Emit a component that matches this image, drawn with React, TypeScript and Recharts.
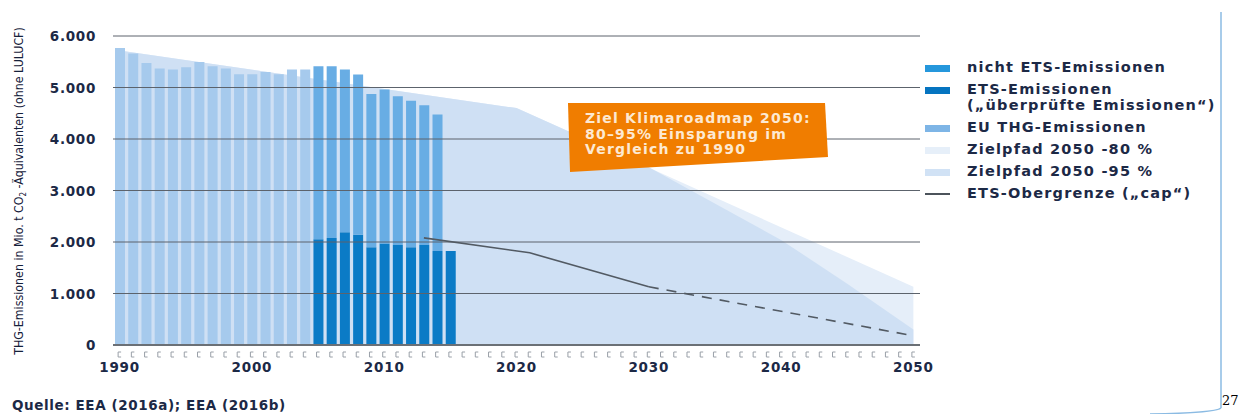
import React from 'react';
import { ComposedChart, Bar, Area, Line, XAxis, YAxis, ReferenceLine, Legend } from 'recharts';

// categories: one per year, 1990..2050
const YEARS = Array.from({ length: 61 }, (_, i) => 1990 + i);

// EU THG-Emissionen 1990-2004 (Mio. t CO2-Äq.)
const EU_YEARS = [1990, 1991, 1992, 1993, 1994, 1995, 1996, 1997, 1998, 1999, 2000, 2001, 2002, 2003, 2004];
const EU_THG = [5767, 5659, 5477, 5368, 5349, 5393, 5496, 5413, 5368, 5258, 5258, 5302, 5258, 5349, 5349];

// ETS-Emissionen ("überprüfte Emissionen") 2005-2015
const ETS_YEARS = [2005, 2006, 2007, 2008, 2009, 2010, 2011, 2012, 2013, 2014, 2015];
const ETS = [2054, 2079, 2190, 2143, 1899, 1969, 1944, 1899, 1944, 1827, 1827];

// nicht ETS-Emissionen 2005-2014 (stacked on ETS)
const NON_ETS_YEARS = [2005, 2006, 2007, 2008, 2009, 2010, 2011, 2012, 2013, 2014];
const NON_ETS = [3359, 3334, 3159, 3109, 2977, 2992, 2887, 2842, 2713, 2650];

// Zielpfade (corner points of the target paths)
const Z80_YEARS = [1990, 2020, 2050];
const Z80 = [5720, 4600, 1130];
const Z95_YEARS = [1990, 2020, 2030, 2040, 2045, 2050];
const Z95 = [5720, 4600, 3450, 2040, 1190, 300];

// ETS cap
const CAP_YEARS = [2013, 2021, 2030];
const CAP = [2080, 1790, 1130];
const CAP_PROJ_YEARS = [2030, 2050];
const CAP_PROJ = [1130, 180];

const Y_TICKS = [0, 1000, 2000, 3000, 4000, 5000, 6000];
const X_LABELS = [1990, 2000, 2010, 2020, 2030, 2040, 2050];

const C = {
  eu: '#a6caed',
  nonEts: '#68ade4',
  ets: '#0b7bc6',
  z80: '#e5eef9',
  z95: '#cfe0f4',
  cap: '#525a63',
  grid: '#5c636c',
  text: '#1c2946',
  orange: '#f07d00',
};

const LEGEND = [
  { label: ['nicht ETS-Emissionen'], color: '#2597dc', y: 69 },
  { label: ['ETS-Emissionen', '(„überprüfte Emissionen“)'], color: '#0574c0', y: 91 },
  { label: ['EU THG-Emissionen'], color: '#7eb5e6', y: 129 },
  { label: ['Zielpfad 2050 -80 %'], color: '#e6eff9', y: 151 },
  { label: ['Zielpfad 2050 -95 %'], color: '#d1e2f5', y: 173 },
  { label: ['ETS-Obergrenze („cap“)'], color: '#4c535b', y: 195, line: true },
];

const pick = (years: number[], vals: number[], y: number) => {
  const i = years.indexOf(y);
  return i < 0 ? null : vals[i];
};

const data = YEARS.map((year) => ({
  year,
  eu: pick(EU_YEARS, EU_THG, year),
  ets: pick(ETS_YEARS, ETS, year),
  nonEts: pick(NON_ETS_YEARS, NON_ETS, year),
  z80: pick(Z80_YEARS, Z80, year),
  z95: pick(Z95_YEARS, Z95, year),
  cap: pick(CAP_YEARS, CAP, year),
  capProj: pick(CAP_PROJ_YEARS, CAP_PROJ, year),
}));

const FONT = '"DejaVu Sans", sans-serif';

const fmt = (v: number) => (v === 0 ? '0' : `${Math.floor(v / 1000)}.${String(v % 1000).padStart(3, '0')}`);

const YTick = (props: any) => {
  const { x, y, payload } = props;
  return (
    <text x={x} y={y} dy={5} textAnchor="end" fill={C.text} fontFamily={FONT} fontWeight={700} fontSize={13.5} letterSpacing={0.7}>
      {fmt(payload.value)}
    </text>
  );
};

const XTick = (props: any) => {
  const { x, y, payload } = props;
  const isLabel = X_LABELS.includes(payload.value);
  return (
    <g>
      <path d={`M${x + 1.5},${y + 5} h-3 v5 h3`} fill="none" stroke="#9aa0a8" strokeWidth={1} />
      {isLabel && (
        <text x={x} y={y + 25} textAnchor="middle" fill={C.text} fontFamily={FONT} fontWeight={700} fontSize={13.5} letterSpacing={0.8}>
          {payload.value}
        </text>
      )}
    </g>
  );
};

const LegendContent = () => (
  <div style={{ position: 'relative', width: 310, height: 210, fontFamily: FONT, fontWeight: 700, fontSize: 14.5, color: C.text, letterSpacing: 1.2 }}>
    {LEGEND.map((it) => (
      <div key={it.label[0]} style={{ position: 'absolute', left: 0, top: it.y - 9, width: 310 }}>
        <span
          style={{
            position: 'absolute',
            left: 0,
            top: it.line ? 7 : 5,
            width: 25,
            height: it.line ? 2 : 7,
            background: it.color,
          }}
        />
        <div style={{ position: 'absolute', left: 42, top: -1, lineHeight: '16px', whiteSpace: 'nowrap' }}>
          {it.label.map((l) => (
            <div key={l}>{l}</div>
          ))}
        </div>
      </div>
    ))}
  </div>
);

export default function App() {
  return (
    <div style={{ position: 'absolute', left: 0, top: 0, width: 1241, height: 414, background: '#fff', overflow: 'hidden' }}>
      <ComposedChart
        width={1241}
        height={414}
        data={data}
        margin={{ top: 36, right: 321, bottom: 39, left: 53 }}
        barSize={10}
      >
        <Area type="linear" dataKey="z80" stroke="none" fill={C.z80} fillOpacity={1} connectNulls dot={false} activeDot={false} isAnimationActive={false} />
        <Area type="linear" dataKey="z95" stroke="none" fill={C.z95} fillOpacity={1} connectNulls dot={false} activeDot={false} isAnimationActive={false} />
        <Bar dataKey="eu" stackId="a" fill={C.eu} isAnimationActive={false} />
        <Bar dataKey="ets" stackId="a" fill={C.ets} isAnimationActive={false} />
        <Bar dataKey="nonEts" stackId="a" fill={C.nonEts} isAnimationActive={false} />
        {Y_TICKS.filter((t) => t > 0).map((t) => (
          <ReferenceLine key={t} y={t} stroke={C.grid} strokeWidth={1} />
        ))}
        <Line type="linear" dataKey="cap" stroke={C.cap} strokeWidth={1.6} dot={false} activeDot={false} connectNulls isAnimationActive={false} />
        <Line type="linear" dataKey="capProj" stroke={C.cap} strokeWidth={1.6} strokeDasharray="10 8" dot={false} activeDot={false} connectNulls isAnimationActive={false} />
        <XAxis
          dataKey="year"
          interval={0}
          tick={<XTick />}
          tickLine={false}
          tickSize={0}
          axisLine={{ stroke: '#6b7076', strokeWidth: 2 }}
          height={30}
        />
        <YAxis
          domain={[0, 6000]}
          ticks={Y_TICKS}
          tick={<YTick />}
          axisLine={false}
          tickLine={false}
          tickSize={0}
          tickMargin={17}
          width={60}
        />
        <Legend
          layout="horizontal"
          verticalAlign="middle"
          align="center"
          content={<LegendContent />}
          wrapperStyle={{ position: 'absolute', left: 925, top: 0, width: 310 }}
        />
      </ComposedChart>

      <svg width={1241} height={414} style={{ position: 'absolute', left: 0, top: 0, pointerEvents: 'none' }}>
        <polygon points="568,103 825,103 828,157 570,172" fill={C.orange} />
        <g fill="#fde9d2" fontFamily={FONT} fontWeight={700} fontSize={14} letterSpacing={1.2}>
          <text x={585} y={123}>Ziel Klimaroadmap 2050:</text>
          <text x={585} y={139}>80–95% Einsparung im</text>
          <text x={585} y={154}>Vergleich zu 1990</text>
        </g>
        <text
          transform="translate(23,191) rotate(-90)"
          textAnchor="middle"
          fill="#15203a"
          fontFamily='"Liberation Sans Narrow", "DejaVu Sans Condensed", sans-serif'
          fontSize={12.3}
        >
          THG-Emissionen in Mio. t CO<tspan fontSize={8} dy={3}>2</tspan><tspan dy={-3}> -Äquivalenten (ohne LULUCF)</tspan>
        </text>
        <text x={12} y={410} fill={C.text} fontFamily={FONT} fontWeight={700} fontSize={13.5} letterSpacing={0.6}>
          Quelle: EEA (2016a); EEA (2016b)
        </text>
        <line x1={1221} y1={12} x2={1221} y2={408} stroke="#8bbbe3" strokeWidth={1.5} />
        <path d="M1221,408 Q1215,413 1150,414" fill="none" stroke="#8bbbe3" strokeWidth={1.5} />
        <text x={1222} y={405} fill="#000" fontFamily='"DejaVu Serif", serif' fontSize={13}>27</text>
      </svg>
    </div>
  );
}
